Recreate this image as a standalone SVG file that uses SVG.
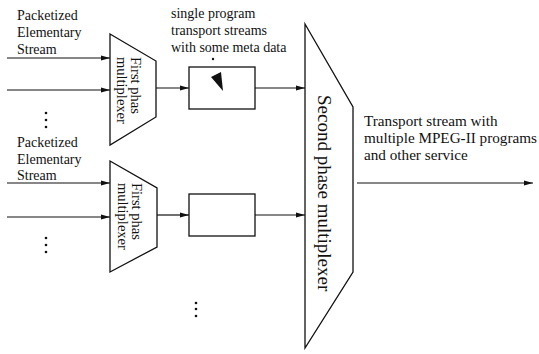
<svg xmlns="http://www.w3.org/2000/svg" width="539" height="354" viewBox="0 0 539 354">
<style>
.t{font-family:"Liberation Serif","Times New Roman",serif;fill:#111}
.s14{font-size:14px}
.s145{font-size:14.5px}
.s15{font-size:15.2px}
.s19{font-size:19px}
.sh{fill:#fff;stroke:#111;stroke-width:1.3}
.ln{stroke:#111;stroke-width:1.2;fill:none}
.dot{fill:#111}
</style>
<defs>
<marker id="ah" markerWidth="10" markerHeight="6" refX="9" refY="3" orient="auto" markerUnits="userSpaceOnUse">
<path d="M0,0.5 L9,3 L0,5.5 Z" fill="#111"/>
</marker>
</defs>
<rect width="539" height="354" fill="#fff"/>

<g id="labels">
<text class="t s14" x="17" y="20">Packetized</text>
<text class="t s14" x="17" y="37">Elementary</text>
<text class="t s14" x="17" y="54">Stream</text>
<text class="t s14" x="17" y="147">Packetized</text>
<text class="t s14" x="17" y="164">Elementary</text>
<text class="t s14" x="17" y="180">Stream</text>
<text class="t s14" x="171" y="18">single program</text>
<text class="t s14" x="171" y="35">transport streams</text>
<text class="t s14" x="171" y="52">with some meta data</text>
<text class="t s15" x="364" y="126">Transport stream with</text>
<text class="t s15" x="364" y="143">multiple MPEG-II programs</text>
<text class="t s15" x="364" y="160">and other service</text>
</g>

<g id="mux1a">
<polygon class="sh" points="110,34 156,61 156,117 110,145"/>
<text class="t s145" transform="translate(131,57) rotate(90)"><tspan x="0" y="0">First phas</tspan><tspan x="0" y="14">multiplexer</tspan></text>
</g>
<g id="mux1b">
<polygon class="sh" points="110,161 157,188 157,247 110,272"/>
<text class="t s145" transform="translate(132,183) rotate(90)"><tspan x="0" y="0">First phas</tspan><tspan x="0" y="14">multiplexer</tspan></text>
</g>
<g id="box1">
<rect class="sh" x="189" y="67" width="66" height="42"/>
<polygon points="211,77 221,72 223,91" fill="#111"/>
<circle cx="213" cy="59" r="1.2" fill="#111"/>
</g>
<g id="box2">
<rect class="sh" x="189" y="194" width="66" height="42"/>
</g>
<g id="mux2">
<polygon class="sh" points="305,24 353,107 353,272 305,348"/>
<text class="t s19" transform="translate(318,95) rotate(90)">Second phase multiplexer</text>
</g>

<g id="connectors">
<line class="ln" x1="7" y1="58" x2="110" y2="58" marker-end="url(#ah)"/>
<line class="ln" x1="7" y1="90" x2="110" y2="90" marker-end="url(#ah)"/>
<line class="ln" x1="7" y1="183" x2="110" y2="183" marker-end="url(#ah)"/>
<line class="ln" x1="7" y1="217" x2="110" y2="217" marker-end="url(#ah)"/>
<line class="ln" x1="156" y1="88" x2="189" y2="88" marker-end="url(#ah)"/>
<line class="ln" x1="157" y1="215" x2="189" y2="215" marker-end="url(#ah)"/>
<line class="ln" x1="255" y1="88" x2="305" y2="88" marker-end="url(#ah)"/>
<line class="ln" x1="255" y1="215" x2="305" y2="215" marker-end="url(#ah)"/>
<line class="ln" x1="357" y1="183" x2="533" y2="183" marker-end="url(#ah)"/>
</g>

<g id="dots">
<circle class="dot" cx="46" cy="113" r="1.3"/>
<circle class="dot" cx="46" cy="120" r="1.3"/>
<circle class="dot" cx="46" cy="127" r="1.3"/>
<circle class="dot" cx="46" cy="238" r="1.3"/>
<circle class="dot" cx="46" cy="245" r="1.3"/>
<circle class="dot" cx="46" cy="252" r="1.3"/>
<circle class="dot" cx="196" cy="303" r="1.3"/>
<circle class="dot" cx="196" cy="309" r="1.3"/>
<circle class="dot" cx="196" cy="316" r="1.3"/>
</g>
</svg>
